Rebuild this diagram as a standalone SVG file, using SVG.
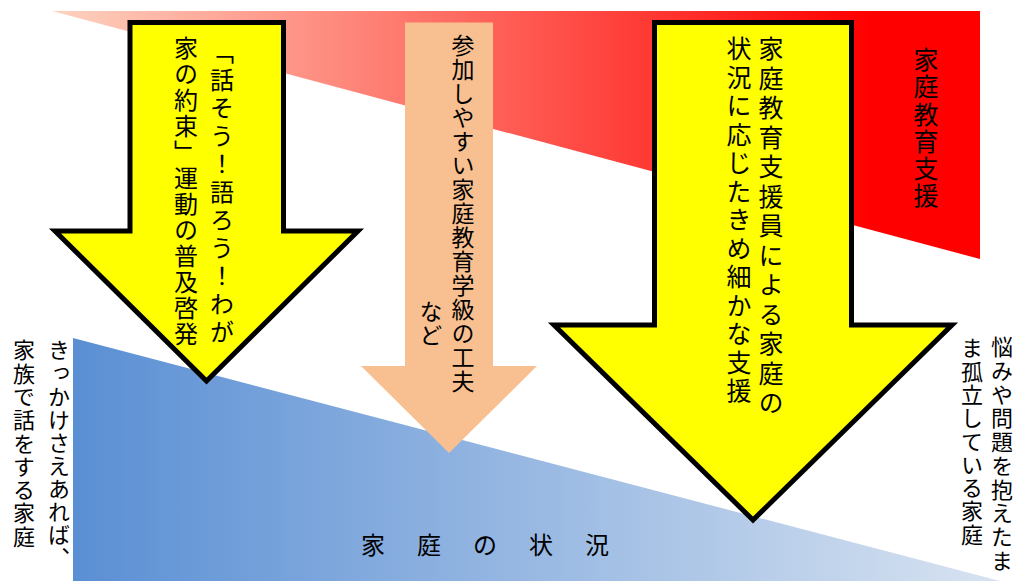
<svg xmlns="http://www.w3.org/2000/svg" width="1016" height="581" viewBox="0 0 1016 581">
  <defs>
    <linearGradient id="redGrad" gradientUnits="userSpaceOnUse" x1="52" y1="0" x2="980" y2="0">
      <stop offset="0" stop-color="#FDD3C0"/>
      <stop offset="0.88" stop-color="#FF0000"/>
      <stop offset="1" stop-color="#FF0000"/>
    </linearGradient>
    <linearGradient id="blueGrad" gradientUnits="userSpaceOnUse" x1="73" y1="0" x2="1000" y2="0">
      <stop offset="0" stop-color="#5A8FD4"/>
      <stop offset="1" stop-color="#D8E3F1"/>
    </linearGradient>
  </defs>
  <style>
    .v { writing-mode: vertical-rl; font-family: "Noto Sans CJK JP", "Noto Sans CJK SC", sans-serif; fill: #000; }
    .h { font-family: "Noto Sans CJK JP", "Noto Sans CJK SC", sans-serif; fill: #000; }
    .yellow { fill: #FFFF00; stroke: #000; stroke-width: 5; }
    .peach { fill: #F8C090; }
  </style>

  <g id="red-wedge">
    <polygon points="52,11 980,11 980,259" fill="url(#redGrad)"/>
    <text class="v" x="926" y="47" font-size="25" letter-spacing="2.3">家庭教育支援</text>
  </g>

  <g id="blue-wedge">
    <polygon points="73,338 1000,581 73,581" fill="url(#blueGrad)"/>
    <text class="h" x="361" y="554" font-size="24" letter-spacing="32">家庭の状況</text>
  </g>

  <g id="label-left">
    <text class="v" x="59" y="339" font-size="22" letter-spacing="1.1">きっかけさえあれば、</text>
    <text class="v" x="24" y="339" font-size="22" letter-spacing="1.3">家族で話をする家庭</text>
  </g>

  <g id="label-right">
    <text class="v" x="1002" y="336" font-size="22" letter-spacing="1.7">悩みや問題を抱えたま</text>
    <text class="v" x="972" y="337" font-size="22" letter-spacing="1.3">ま孤立している家庭</text>
  </g>

  <g id="arrow-left">
    <path class="yellow" d="M130,22.5 L283.5,22.5 L283.5,231 L358,231 L206.5,381 L55,231 L130,231 Z"/>
    <text class="v" x="222" y="40" font-size="24" letter-spacing="4">「話そう！語ろう！わが</text>
    <text class="v" x="186" y="36" font-size="24" letter-spacing="2">家の約束」運動の普及啓発</text>
  </g>

  <g id="arrow-middle">
    <path class="peach" d="M405,22.5 L493,22.5 L493,366 L537,366 L449,453 L361,366 L405,366 Z"/>
    <text class="v" x="463" y="34" font-size="23" letter-spacing="1">参加しやすい家庭教育学級の工夫</text>
    <text class="v" x="431" y="300" font-size="23" letter-spacing="1">など</text>
  </g>

  <g id="arrow-right">
    <path class="yellow" d="M654.5,22.5 L851.5,22.5 L851.5,325 L952,325 L753,520 L554,325 L654.5,325 Z"/>
    <text class="v" x="771" y="36" font-size="25" letter-spacing="4.5">家庭教育支援員による家庭の</text>
    <text class="v" x="739" y="36" font-size="25" letter-spacing="3.5">状況に応じたきめ細かな支援</text>
  </g>

  <g id="connectors"></g>
</svg>
